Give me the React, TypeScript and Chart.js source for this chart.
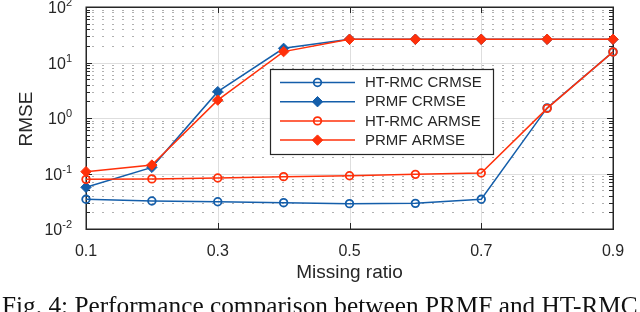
import React, { useEffect, useRef } from 'react';
import { Chart, registerables } from 'chart.js';

Chart.register(...registerables);

// ---- data ----
const missingRatio = [0.1, 0.2, 0.3, 0.4, 0.5, 0.6, 0.7, 0.8, 0.9];
const htrmcCrmse = [0.0343, 0.032, 0.031, 0.0298, 0.0286, 0.029, 0.0343, 1.52, 15.5];
const prmfCrmse = [0.0564, 0.129, 2.98, 18.0, 26.2, 26.2, 26.2, 26.2, 26.2];
const htrmcArmse = [0.0785, 0.08, 0.083, 0.0877, 0.091, 0.0966, 0.102, 1.49, 15.5];
const prmfArmse = [0.108, 0.142, 2.1, 15.7, 26.2, 26.2, 26.2, 26.2, 26.2];
const seriesLabels = ['HT-RMC CRMSE', 'PRMF CRMSE', 'HT-RMC ARMSE', 'PRMF ARMSE'];
const xTickValues = [0.1, 0.3, 0.5, 0.7, 0.9];
const xTickLabels = ['0.1', '0.3', '0.5', '0.7', '0.9'];
const yDecadeExponents = [-2, -1, 0, 1, 2];
const xTitle = 'Missing ratio';
const yTitle = 'RMSE';
const caption = 'Fig. 4: Performance comparison between PRMF and HT-RMC';

// ---- styles ----
const BLUE = 'rgb(20, 94, 170)';
const RED = 'rgb(255, 48, 10)';
const AXIS = '#262626';
const SANS = '"Liberation Sans", Arial, sans-serif';

const seriesStyles = [
  { color: BLUE, marker: 'circle' },
  { color: BLUE, marker: 'rectRot' },
  { color: RED, marker: 'circle' },
  { color: RED, marker: 'rectRot' },
];

function drawMarker(ctx: CanvasRenderingContext2D, kind: string, x: number, y: number, color: string) {
  ctx.save();
  if (kind === 'circle') {
    ctx.beginPath();
    ctx.arc(x, y, 3.8, 0, Math.PI * 2);
    ctx.strokeStyle = color;
    ctx.lineWidth = 1.8;
    ctx.stroke();
  } else {
    const r = 5.2;
    ctx.beginPath();
    ctx.moveTo(x, y - r);
    ctx.lineTo(x + r, y);
    ctx.lineTo(x, y + r);
    ctx.lineTo(x - r, y);
    ctx.closePath();
    ctx.fillStyle = color;
    ctx.fill();
    ctx.strokeStyle = color;
    ctx.lineWidth = 1;
    ctx.stroke();
  }
  ctx.restore();
}

const axesPlugin = {
  id: 'matlabAxes',
  beforeDatasetsDraw(chart: any) {
    const { ctx, chartArea } = chart;
    const { left, right, top, bottom } = chartArea;
    const xs = chart.scales.x;
    const ys = chart.scales.y;
    ctx.save();
    // minor dotted y grid
    ctx.strokeStyle = 'rgba(150,150,150,0.75)';
    ctx.lineWidth = 1;
    ctx.setLineDash([2, 8]);
    ctx.lineDashOffset = 4;
    for (let e = yDecadeExponents[0]; e < yDecadeExponents[yDecadeExponents.length - 1]; e++) {
      for (let k = 2; k <= 9; k++) {
        const py = Math.round(ys.getPixelForValue(k * Math.pow(10, e))) + 0.5;
        ctx.beginPath();
        ctx.moveTo(left, py);
        ctx.lineTo(right, py);
        ctx.stroke();
      }
    }
    ctx.setLineDash([]);
    // major grid
    ctx.strokeStyle = '#dedede';
    yDecadeExponents.forEach((e) => {
      const py = Math.round(ys.getPixelForValue(Math.pow(10, e))) + 0.5;
      ctx.beginPath();
      ctx.moveTo(left, py);
      ctx.lineTo(right, py);
      ctx.stroke();
    });
    xTickValues.forEach((v) => {
      const px = Math.round(xs.getPixelForValue(v)) + 0.5;
      ctx.beginPath();
      ctx.moveTo(px, top);
      ctx.lineTo(px, bottom);
      ctx.stroke();
    });
    // ticks
    ctx.strokeStyle = AXIS;
    ctx.lineWidth = 1;
    const major = 6;
    const minor = 4;
    xTickValues.forEach((v) => {
      const px = Math.round(xs.getPixelForValue(v)) + 0.5;
      ctx.beginPath();
      ctx.moveTo(px, bottom);
      ctx.lineTo(px, bottom - major);
      ctx.moveTo(px, top);
      ctx.lineTo(px, top + major);
      ctx.stroke();
    });
    yDecadeExponents.forEach((e, i) => {
      const py = Math.round(ys.getPixelForValue(Math.pow(10, e))) + 0.5;
      ctx.beginPath();
      ctx.moveTo(left, py);
      ctx.lineTo(left + major, py);
      ctx.moveTo(right, py);
      ctx.lineTo(right - major, py);
      ctx.stroke();
      if (i < yDecadeExponents.length - 1) {
        for (let k = 2; k <= 9; k++) {
          const pm = Math.round(ys.getPixelForValue(k * Math.pow(10, e))) + 0.5;
          ctx.beginPath();
          ctx.moveTo(left, pm);
          ctx.lineTo(left + minor, pm);
          ctx.moveTo(right, pm);
          ctx.lineTo(right - minor, pm);
          ctx.stroke();
        }
      }
    });
    // box
    ctx.lineWidth = 1.5;
    ctx.strokeRect(Math.round(left) + 0.25, Math.round(top) + 0.25, Math.round(right - left), Math.round(bottom - top));
    ctx.restore();
  },
  afterDatasetsDraw(chart: any) {
    const { ctx } = chart;
    ctx.save();
    // legend
    const bx = 270, by = 69, bw = 223, bh = 85;
    ctx.fillStyle = '#ffffff';
    ctx.fillRect(bx, by, bw, bh);
    ctx.strokeStyle = AXIS;
    ctx.lineWidth = 1.2;
    ctx.strokeRect(bx + 0.5, by + 0.5, bw, bh);
    ctx.font = `15px ${SANS}`;
    ctx.textBaseline = 'middle';
    ctx.textAlign = 'left';
    seriesLabels.forEach((label, i) => {
      const ry = by + 13.5 + i * 19.2;
      const st = seriesStyles[i];
      ctx.strokeStyle = st.color;
      ctx.lineWidth = 1.5;
      ctx.beginPath();
      ctx.moveTo(280, ry);
      ctx.lineTo(355, ry);
      ctx.stroke();
      drawMarker(ctx, st.marker, 317.5, ry, st.color);
      ctx.fillStyle = AXIS;
      ctx.fillText(label, 365, ry + 0.5);
    });
    ctx.restore();
  },
  afterDraw(chart: any) {
    const { ctx, chartArea } = chart;
    const xs = chart.scales.x;
    const ys = chart.scales.y;
    ctx.save();
    ctx.fillStyle = AXIS;
    // y tick labels with superscripts
    const labelRight = chartArea.left - 14;
    yDecadeExponents.forEach((e) => {
      const py = ys.getPixelForValue(Math.pow(10, e));
      const exp = String(e);
      ctx.font = `11px ${SANS}`;
      ctx.textAlign = 'right';
      ctx.textBaseline = 'alphabetic';
      const ew = ctx.measureText(exp).width;
      ctx.fillText(exp, labelRight, py - 1);
      ctx.font = `16px ${SANS}`;
      ctx.fillText('10', labelRight - ew, py + 6);
    });
    // x tick labels
    ctx.font = `16px ${SANS}`;
    ctx.textAlign = 'center';
    ctx.textBaseline = 'alphabetic';
    xTickValues.forEach((v, i) => {
      ctx.fillText(xTickLabels[i], xs.getPixelForValue(v), 256);
    });
    // axis titles
    ctx.font = `19px ${SANS}`;
    ctx.fillText(xTitle, (chartArea.left + chartArea.right) / 2, 278);
    ctx.translate(32, (chartArea.top + chartArea.bottom) / 2 + 1);
    ctx.rotate(-Math.PI / 2);
    ctx.fillText(yTitle, 0, 0);
    ctx.restore();
  },
};

export default function App() {
  const canvasRef = useRef<HTMLCanvasElement | null>(null);

  useEffect(() => {
    const canvas = canvasRef.current;
    if (!canvas) return;
    const seriesValues = [htrmcCrmse, prmfCrmse, htrmcArmse, prmfArmse];
    const chart = new Chart(canvas, {
      type: 'line',
      data: {
        datasets: seriesValues.map((vals, i) => {
          const st = seriesStyles[i];
          const isCircle = st.marker === 'circle';
          return {
            label: seriesLabels[i],
            data: missingRatio.map((x, j) => ({ x, y: vals[j] })),
            borderColor: st.color,
            backgroundColor: isCircle ? 'rgba(0,0,0,0)' : st.color,
            pointBorderColor: st.color,
            pointBackgroundColor: isCircle ? 'rgba(0,0,0,0)' : st.color,
            pointStyle: st.marker,
            pointRadius: isCircle ? 3.8 : 5.2,
            pointBorderWidth: isCircle ? 1.8 : 1,
            borderWidth: 1.5,
            tension: 0,
            fill: false,
            clip: false,
            order: 4 - i,
          };
        }),
      } as any,
      options: {
        responsive: false,
        animation: false,
        devicePixelRatio: 1,
        layout: { padding: { left: 0, top: 7, right: 27, bottom: 0 } },
        scales: {
          x: {
            type: 'linear',
            min: 0.1,
            max: 0.9,
            ticks: { display: false },
            grid: { display: false },
            border: { display: false },
            afterFit: (s: any) => { s.height = 83; },
          },
          y: {
            type: 'logarithmic',
            min: 0.01,
            max: 100,
            ticks: { display: false },
            grid: { display: false },
            border: { display: false },
            afterFit: (s: any) => { s.width = 86; },
          },
        },
        plugins: {
          legend: { display: false },
          tooltip: { enabled: false },
          title: { display: false },
        },
      } as any,
      plugins: [axesPlugin],
    });
    return () => chart.destroy();
  }, []);

  return (
    <div style={{ position: 'absolute', left: 0, top: 0, width: 640, height: 312, overflow: 'hidden', background: '#ffffff' }}>
      <canvas ref={canvasRef} width={640} height={312} style={{ position: 'absolute', left: 0, top: 0, width: 640, height: 312 }} />
      <div
        style={{
          position: 'absolute',
          left: 2,
          top: 293,
          fontFamily: '"Liberation Serif", "Times New Roman", serif',
          fontSize: 25.3,
          lineHeight: '25.3px',
          whiteSpace: 'nowrap',
          color: '#111111',
        }}
      >
        {caption}
      </div>
    </div>
  );
}
